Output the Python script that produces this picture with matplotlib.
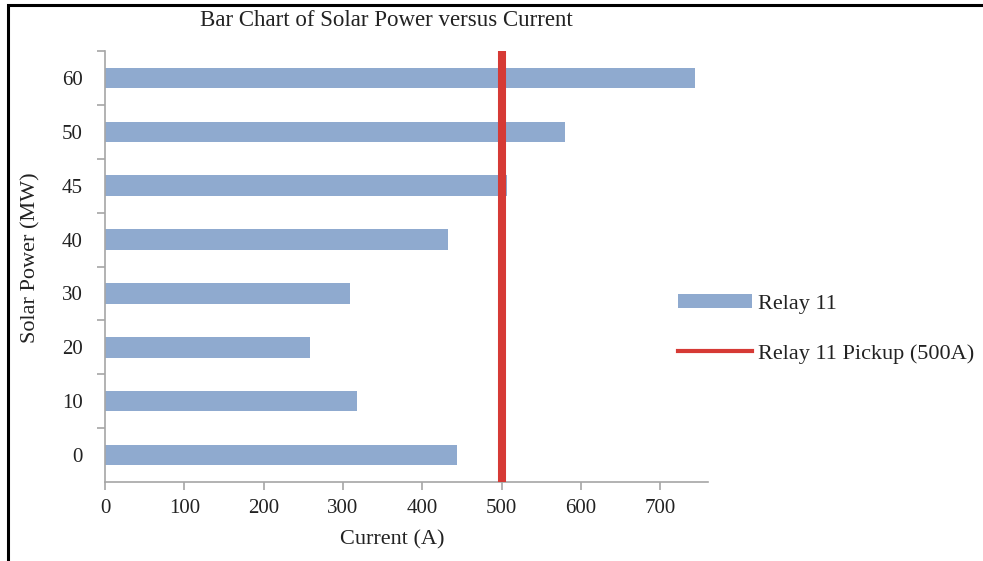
import matplotlib
matplotlib.use("Agg")
import matplotlib.pyplot as plt
from matplotlib.lines import Line2D
from matplotlib.patches import Patch, Rectangle

# Solar power levels (MW) and the resulting relay current (A)
solar_power = ["0", "10", "20", "30", "40", "45", "50", "60"]
current = [444, 318, 259, 309, 432, 507, 580, 744]
pickup = 500

bar_color = "#8FAACF"
line_color = "#D63A35"
axis_color = "#A6A6A6"
text_color = "#222222"

plt.rcParams["font.family"] = ["Liberation Serif", "DejaVu Serif"]

fig = plt.figure(figsize=(9.83, 5.61), dpi=100)
ax = fig.add_axes([105 / 983, 79 / 561, (708 - 105) / 983, (482 - 51) / 561])

pos = list(range(len(solar_power)))
ax.barh(pos, current, height=0.38, color=bar_color, zorder=2)
ax.axvline(pickup, color=line_color, lw=5.8, zorder=3, solid_capstyle="butt")

ax.set_ylim(-0.5, len(solar_power) - 0.5)
ax.set_xlim(0, 760)
ax.set_xticks(range(0, 800, 100))
ax.set_yticks(pos)
ax.set_yticklabels(solar_power)
ax.set_yticks([p + 0.5 for p in pos], minor=True)

for side in ["top", "right"]:
    ax.spines[side].set_visible(False)
for side in ["left", "bottom"]:
    ax.spines[side].set_color(axis_color)
    ax.spines[side].set_linewidth(1.2)

ax.tick_params(axis="x", colors=axis_color, length=6, width=1.2, labelsize=15,
               labelcolor=text_color, pad=6)
ax.tick_params(axis="y", which="major", length=0, labelsize=15,
               labelcolor=text_color, pad=16)
ax.tick_params(axis="y", which="minor", colors=axis_color, length=6, width=1.2)

fig.text(392 / 983, 1 - 540 / 561, "Current (A)", ha="center", va="center",
         fontsize=16, color=text_color)
fig.text(31 / 983, 1 - 258 / 561, "Solar Power (MW)", rotation=90,
         ha="center", va="center", fontsize=16, color=text_color)
fig.text(386 / 983, 1 - 20 / 561, "Bar Chart of Solar Power versus Current",
         ha="center", va="center", fontsize=16.5, color=text_color)

handles = [Patch(facecolor=bar_color, edgecolor="none"),
           Line2D([0], [0], color=line_color, lw=3)]
fig.legend(handles, ["Relay 11", "Relay 11 Pickup (500A)"],
           loc="center left", bbox_to_anchor=(658 / 983, 1 - 329 / 561),
           frameon=False, fontsize=16, handlelength=3.33, handleheight=0.55,
           handletextpad=0.28, labelspacing=1.35, labelcolor=text_color)

# black frame around the chart area
fig.patches.append(Rectangle((8 / 983, -0.1), 1.2, 1 - 5 / 561 + 0.1,
                             transform=fig.transFigure, fill=False,
                             edgecolor="black", lw=2.2))

fig.savefig("out.png", dpi=100)
